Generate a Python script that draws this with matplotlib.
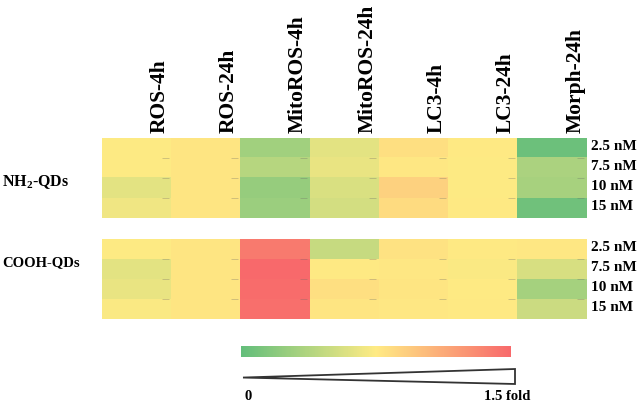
import numpy as np
import matplotlib
matplotlib.use("Agg")
import matplotlib.pyplot as plt
from matplotlib.colors import LinearSegmentedColormap, Normalize
from matplotlib.cm import ScalarMappable
from matplotlib.patches import Polygon

plt.rcParams["font.family"] = ["Liberation Serif", "DejaVu Serif"]
plt.rcParams["font.weight"] = "bold"
plt.rcParams["mathtext.fontset"] = "custom"
plt.rcParams["mathtext.rm"] = "Liberation Serif:bold"
plt.rcParams["mathtext.bf"] = "Liberation Serif:bold"

columns = ["ROS-4h", "ROS-24h", "MitoROS-4h", "MitoROS-24h", "LC3-4h", "LC3-24h", "Morph-24h"]
doses = ["2.5 nM", "7.5 nM", "10 nM", "15 nM"]
groups = [r"NH$_\mathbf{2}$-QDs", "COOH-QDs"]

# fold change (0 .. 1.5), rows = doses, cols = endpoints
nh2_fold = [
    [0.74, 0.78, 0.30, 0.62, 0.82, 0.76, 0.05],
    [0.74, 0.78, 0.40, 0.65, 0.77, 0.74, 0.35],
    [0.62, 0.78, 0.25, 0.57, 0.90, 0.74, 0.33],
    [0.68, 0.78, 0.27, 0.54, 0.84, 0.76, 0.07],
]
cooh_fold = [
    [0.74, 0.78, 1.40, 0.48, 0.80, 0.76, 0.77],
    [0.62, 0.78, 1.50, 0.76, 0.77, 0.73, 0.56],
    [0.65, 0.78, 1.48, 0.82, 0.78, 0.75, 0.32],
    [0.73, 0.78, 1.46, 0.78, 0.77, 0.76, 0.50],
]
scale_min, scale_max = 0, 1.5

cmap = LinearSegmentedColormap.from_list("excel3", ["#63BE7B", "#FFEB84", "#F8696B"])
norm = Normalize(scale_min, scale_max)

W, H = 638, 405
fig = plt.figure(figsize=(W / 100, H / 100), dpi=100)


def px_axes(x0, y0, x1, y1):
    return fig.add_axes([x0 / W, 1 - y1 / H, (x1 - x0) / W, (y1 - y0) / H])


ax_top = px_axes(102, 138, 587, 218)
ax_bot = px_axes(102, 239, 587, 319)

for ax, vals, label, ly, fs in [(ax_top, nh2_fold, groups[0], 0.45, 11.5),
                                (ax_bot, cooh_fold, groups[1], 0.70, 10.5)]:
    data = np.array(vals)
    ax.imshow(data, cmap=cmap, norm=norm, aspect="auto", interpolation="nearest")
    nr, nc = data.shape
    # tiny cell marks
    for r in range(nr):
        for c in range(nc):
            ax.plot([c + 0.36, c + 0.46], [r + 0.5, r + 0.5], color="#666666",
                    lw=0.7, alpha=0.3, solid_capstyle="butt")
    ax.set_xlim(-0.5, nc - 0.5)
    ax.set_ylim(nr - 0.5, -0.5)
    ax.set_axis_off()
    for r, d in enumerate(doses):
        ax.text(1.008, 1 - (r + 0.42) / nr, d, transform=ax.transAxes,
                ha="left", va="center", fontsize=11, fontweight="bold")
    ax.text(-0.206, ly, label, transform=ax.transAxes, ha="left", va="center",
            fontsize=fs, fontweight="bold")

for c, name in enumerate(columns):
    ax_top.text((c + 0.83) / len(columns), 1.06, name, transform=ax_top.transAxes,
                rotation=90, ha="center", va="bottom", fontsize=15.5, fontweight="bold")

# colour scale
cax = px_axes(241, 346, 511, 357)
cb = fig.colorbar(ScalarMappable(norm=norm, cmap=cmap), cax=cax, orientation="horizontal")
cb.outline.set_visible(False)
cb.set_ticks([])

tax = px_axes(243, 369, 515, 384)
tax.set_xlim(scale_min, scale_max)
tax.set_ylim(0, 1)
tax.add_patch(Polygon([(scale_min, 0.43), (scale_max, 1.0), (scale_max, 0.0)],
                      closed=True, fill=False, edgecolor="#333333", lw=1.3,
                      clip_on=False))
tax.set_axis_off()
tax.text(0.005, -0.8, "0", transform=tax.transAxes, ha="left", va="center",
         fontsize=10.5, fontweight="bold")
tax.text(1.055, -0.8, "1.5 fold", transform=tax.transAxes, ha="right", va="center",
         fontsize=10.5, fontweight="bold")

fig.savefig("out.png", dpi=100)
